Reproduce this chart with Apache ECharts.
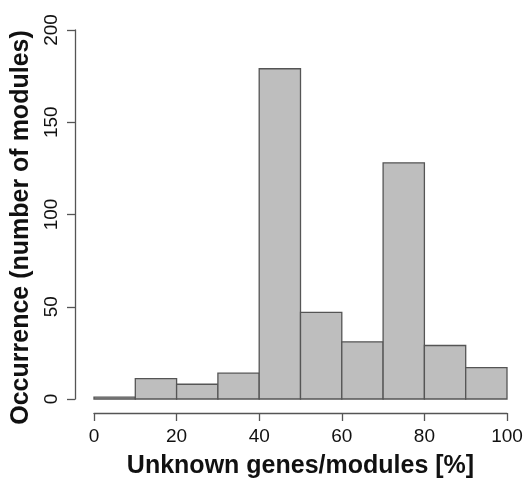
<!DOCTYPE html>
<html>
<head>
<meta charset="utf-8">
<script src="https://cdn.jsdelivr.net/npm/echarts@6/dist/echarts.min.js"></script>
<style>
  html, body { margin: 0; padding: 0; background: #fff; }
  #chart { width: 525px; height: 492px; }
</style>
</head>
<body>
<div id="chart"></div>
<script>
// histogram bins (percent of unknown genes) and counts
let binStarts = [0, 10, 20, 30, 40, 50, 60, 70, 80, 90];
let binEnds = [10, 20, 30, 40, 50, 60, 70, 80, 90, 100];
let counts = [1, 11, 8, 14, 179, 47, 31, 128, 29, 17];

let myChart = echarts.init(document.getElementById('chart'));

let data = [];
binStarts.forEach((s, i) => {
    data.push([s, binEnds[i], counts[i]]);
});

let axisColor = '#555';
let font = '"Liberation Sans", Arial, sans-serif';

myChart.setOption({
    animation: false,
    grid: {
        left: 94,
        right: 18,
        top: 30,
        bottom: 93,
        containLabel: false,
        outerBoundsMode: 'none'
    },
    xAxis: {
        type: 'value',
        min: 0,
        max: 100,
        interval: 20,
        offset: 14,
        name: 'Unknown genes/modules [%]',
        nameLocation: 'middle',
        nameGap: 41,
        nameTextStyle: { fontFamily: font, fontSize: 25, fontWeight: 'bold', color: '#111' },
        axisLine: { show: true, onZero: false, lineStyle: { color: axisColor, width: 1.3 } },
        axisTick: { show: true, length: 8, lineStyle: { color: axisColor, width: 1.3 } },
        axisLabel: { margin: 14, fontFamily: font, fontSize: 19, color: '#111' },
        splitLine: { show: false }
    },
    yAxis: {
        type: 'value',
        min: 0,
        max: 200,
        interval: 50,
        offset: 19,
        name: 'Occurrence (number of modules)',
        nameLocation: 'middle',
        nameGap: 37,
        nameTextStyle: { fontFamily: font, fontSize: 25, fontWeight: 'bold', color: '#111', padding: [0, 26, 0, 0] },
        axisLine: { show: true, onZero: false, lineStyle: { color: axisColor, width: 1.3 } },
        axisTick: { show: true, length: 8, lineStyle: { color: axisColor, width: 1.3 } },
        axisLabel: { rotate: 90, margin: 14, fontFamily: font, fontSize: 19, color: '#111' },
        splitLine: { show: false }
    },
    series: [{
        type: 'custom',
        data: data,
        renderItem: function (params, api) {
            let p0 = api.coord([api.value(0), api.value(2)]);
            let p1 = api.coord([api.value(1), 0]);
            return {
                type: 'rect',
                shape: { x: p0[0], y: p0[1], width: p1[0] - p0[0], height: p1[1] - p0[1] },
                style: { fill: '#bebebe', stroke: '#555', lineWidth: 1.3 }
            };
        }
    }]
});
</script>
</body>
</html>
